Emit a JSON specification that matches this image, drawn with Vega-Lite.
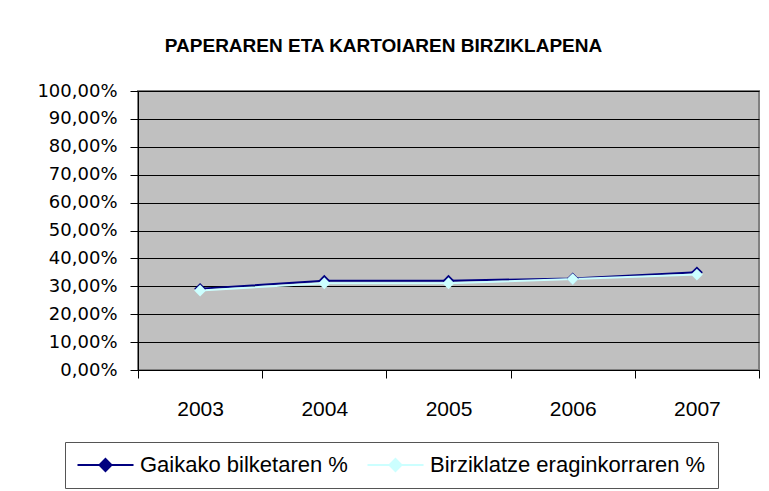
{
  "$schema": "https://vega.github.io/schema/vega-lite/v6.json",
  "width": 621,
  "height": 279,
  "autosize": {"type": "none"},
  "padding": {"left": 138, "top": 91, "right": 10, "bottom": 121},
  "background": "white",
  "config": {
    "locale": {"number": {"decimal": ",", "thousands": ".", "grouping": [3], "currency": ["", " €"]}},
    "view": {"fill": "#c0c0c0", "stroke": "#808080", "strokeWidth": 2},
    "font": "DejaVu Sans"
  },
  "title": {
    "text": "PAPERAREN ETA KARTOIAREN BIRZIKLAPENA",
    "anchor": "middle",
    "frame": "group",
    "dx": -65,
    "offset": 26,
    "font": "Liberation Sans",
    "fontSize": 19,
    "fontWeight": "bold",
    "limit": 0,
    "color": "black"
  },
  "data": {
    "values": [
      {"urtea": "2003", "serie": "Gaikako bilketaren %", "balioa": 0.291},
      {"urtea": "2004", "serie": "Gaikako bilketaren %", "balioa": 0.320},
      {"urtea": "2005", "serie": "Gaikako bilketaren %", "balioa": 0.320},
      {"urtea": "2006", "serie": "Gaikako bilketaren %", "balioa": 0.328},
      {"urtea": "2007", "serie": "Gaikako bilketaren %", "balioa": 0.350},
      {"urtea": "2003", "serie": "Birziklatze eraginkorraren %", "balioa": 0.285},
      {"urtea": "2004", "serie": "Birziklatze eraginkorraren %", "balioa": 0.311},
      {"urtea": "2005", "serie": "Birziklatze eraginkorraren %", "balioa": 0.311},
      {"urtea": "2006", "serie": "Birziklatze eraginkorraren %", "balioa": 0.326},
      {"urtea": "2007", "serie": "Birziklatze eraginkorraren %", "balioa": 0.342}
    ]
  },
  "mark": {
    "type": "line",
    "strokeWidth": 2,
    "point": {"shape": "diamond", "size": 140, "filled": true, "opacity": 1}
  },
  "encoding": {
    "x": {
      "field": "urtea",
      "type": "ordinal",
      "scale": {"type": "band", "paddingInner": 0, "paddingOuter": 0},
      "axis": {
        "title": null,
        "labelAngle": 0,
        "tickBand": "extent",
        "tickSize": 8,
        "tickColor": "black",
        "domainColor": "black",
        "labelPadding": 20,
        "labelFontSize": 21,
        "labelFont": "Liberation Sans",
        "labelColor": "black",
        "grid": false
      }
    },
    "y": {
      "field": "balioa",
      "type": "quantitative",
      "scale": {"domain": [0, 1], "nice": false},
      "axis": {
        "title": null,
        "values": [0, 0.1, 0.2, 0.3, 0.4, 0.5, 0.6, 0.7, 0.8, 0.9, 1],
        "format": ".2%",
        "tickSize": 8,
        "tickColor": "black",
        "domainColor": "black",
        "labelPadding": 13,
        "labelFontSize": 18,
        "labelColor": "black",
        "grid": true,
        "gridColor": "black",
        "gridWidth": 1,
        "gridOpacity": 1
      }
    },
    "color": {
      "field": "serie",
      "type": "nominal",
      "scale": {
        "domain": ["Gaikako bilketaren %", "Birziklatze eraginkorraren %"],
        "range": ["#000080", "#ccffff"]
      },
      "legend": {
        "title": null,
        "orient": "none",
        "legendX": -73,
        "legendY": 351,
        "direction": "horizontal",
        "strokeColor": "#555555",
        "padding": 12,
        "symbolType": "M-1.4,0H6.07M2.33,-0.8L3.13,0L2.33,0.8L1.53,0Z",
        "symbolSize": 225,
        "symbolStrokeWidth": 2,
        "labelOffset": 41,
        "labelFont": "Liberation Sans",
        "labelFontSize": 22,
        "labelLimit": 0,
        "labelColor": "black",
        "columnPadding": 15,
        "encode": {
          "symbols": {
            "update": {
              "fill": {"scale": "color", "field": "value"},
              "stroke": {"scale": "color", "field": "value"},
              "opacity": {"value": 1}
            }
          }
        }
      }
    }
  }
}
